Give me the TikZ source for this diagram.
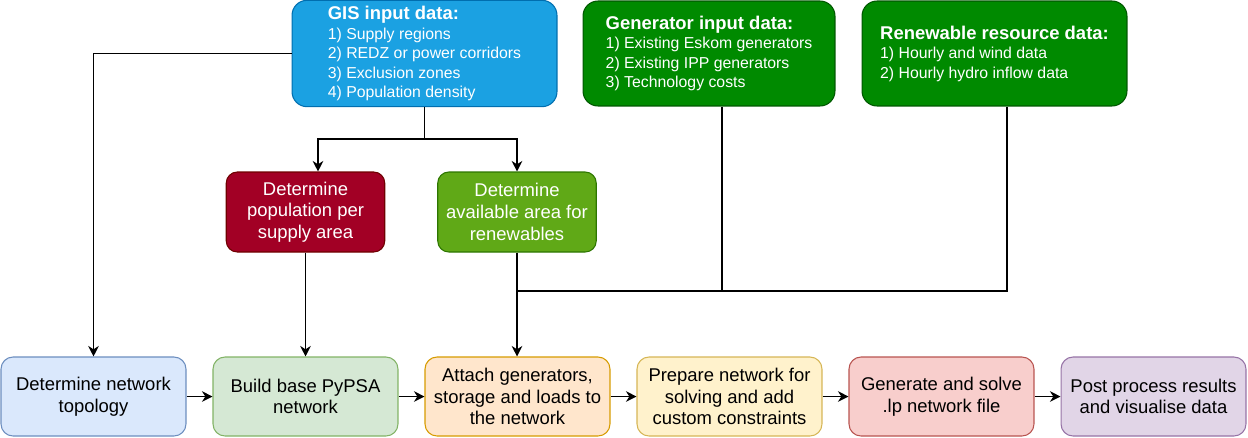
\documentclass[tikz,border=0pt]{standalone}
\usepackage{fontspec}
\setmainfont{Liberation Sans}
\usetikzlibrary{arrows.meta}
\definecolor{gisfill}{HTML}{1BA1E2}
\definecolor{gisline}{HTML}{006EAF}
\definecolor{genfill}{HTML}{008A00}
\definecolor{genline}{HTML}{005700}
\definecolor{popfill}{HTML}{A20025}
\definecolor{popline}{HTML}{6F0000}
\definecolor{areafill}{HTML}{60A917}
\definecolor{arealine}{HTML}{2D7600}
\definecolor{topofill}{HTML}{DAE8FC}
\definecolor{topoline}{HTML}{6C8EBF}
\definecolor{buildfill}{HTML}{D5E8D4}
\definecolor{buildline}{HTML}{82B366}
\definecolor{attachfill}{HTML}{FFE6CC}
\definecolor{attachline}{HTML}{D79B00}
\definecolor{prepfill}{HTML}{FFF2CC}
\definecolor{prepline}{HTML}{D6B656}
\definecolor{solvefill}{HTML}{F8CECC}
\definecolor{solveline}{HTML}{B85450}
\definecolor{postfill}{HTML}{E1D5E7}
\definecolor{postline}{HTML}{9673A6}
\begin{document}
\begin{tikzpicture}[x=0.02cm,y=-0.02cm,line width=0.6pt,
  inbox/.style={rounded corners=0.3cm,minimum height=2.1cm,text=white,align=left,
    font=\fontsize{9}{11.1}\selectfont},
  midbox/.style={rounded corners=0.22cm,minimum width=3.17cm,minimum height=1.6cm,
    text=white,align=center,font=\fontsize{10.5}{12.3}\selectfont},
  stepbox/.style={rounded corners=0.24cm,minimum width=3.7cm,minimum height=1.58cm,
    align=center,font=\fontsize{10.5}{12.4}\selectfont},
  arr/.style={-{Stealth[length=6pt,width=6pt]}}]
%\draw[help lines] (0,0) grid[step=1cm] (1248,437);
\useasboundingbox (0,0) rectangle (1248,437);
\node[inbox,draw=gisline,fill=gisfill,minimum width=5.3cm] (gis) at (424.5,53.5)
  {{\fontsize{10.5}{12}\selectfont\bfseries GIS input data:}\\1) Supply regions\\2) REDZ or power corridors\\3) Exclusion zones\\4) Population density};
\node[inbox,draw=genline,fill=genfill,minimum width=5.04cm] (gen) at (709,53.5)
  {{\fontsize{10.5}{12}\selectfont\bfseries Generator input data:}\\1) Existing Eskom generators\\2) Existing IPP generators\\3) Technology costs};
\node[inbox,draw=genline,fill=genfill,minimum width=5.3cm] (ren) at (994.5,53.5)
  {{\fontsize{10.5}{12}\selectfont\bfseries Renewable resource data:}\\1) Hourly and wind data\\2) Hourly hydro inflow data};
\node[midbox,draw=popline,fill=popfill] (pop) at (305.5,212) {Determine\\population per\\supply area};
\node[midbox,draw=arealine,fill=areafill] (area) at (517,212) {Determine\\available area for\\renewables};
\node[stepbox,draw=topoline,fill=topofill] (topo) at (93.5,396.5) {Determine network\\topology};
\node[stepbox,draw=buildline,fill=buildfill] (build) at (305.5,396.5) {Build base PyPSA\\network};
\node[stepbox,draw=attachline,fill=attachfill] (attach) at (517.5,396.5) {Attach generators,\\storage and loads to\\the network};
\node[stepbox,draw=prepline,fill=prepfill] (prep) at (729.5,396.5) {Prepare network for\\solving and add\\custom constraints};
\node[stepbox,draw=solveline,fill=solvefill] (solve) at (941.5,396.5) {Generate and solve\\.lp network file};
\node[stepbox,draw=postline,fill=postfill] (post) at (1153.5,396.5) {Post process results\\and visualise data};
\coordinate (split) at (424.5,139);
\coordinate (join) at (517,291);
\draw[arr] (gis.west) -| (topo.north);
\draw (gis.south) -- (split);
\draw[arr] (split) -| ([xshift=0.25cm]pop.north);
\draw[arr] (split) -| (area.north);
\draw[arr] (pop.south) -- (build.north);
\draw[arr] (area.south) -- (area.south |- attach.north);
\draw ([xshift=0.26cm]gen.south) |- (join);
\draw ([xshift=0.25cm]ren.south) |- (join);
\draw[arr] (topo) -- (build);
\draw[arr] (build) -- (attach);
\draw[arr] (attach) -- (prep);
\draw[arr] (prep) -- (solve);
\draw[arr] (solve) -- (post);
\end{tikzpicture}
\end{document}
